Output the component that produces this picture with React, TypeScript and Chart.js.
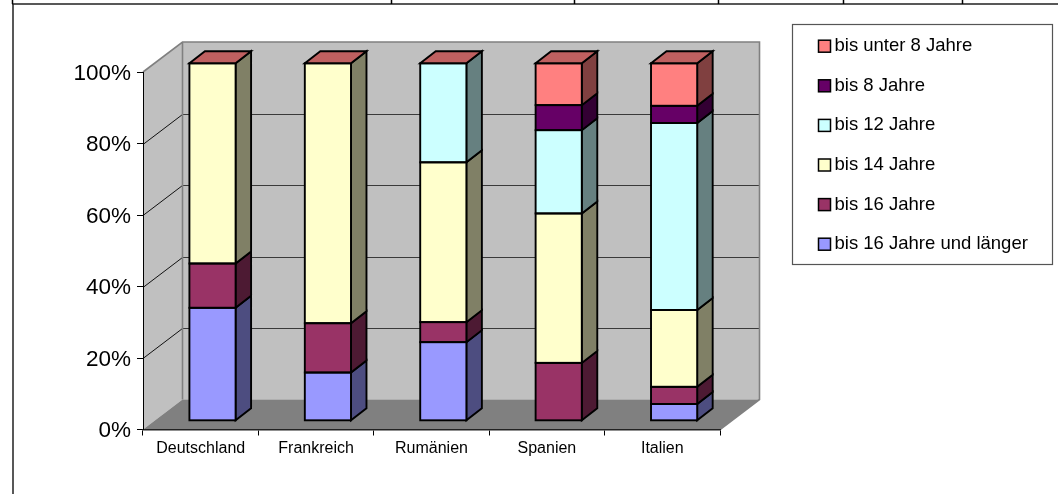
import React, { useEffect, useRef } from "react";
import { Chart, registerables } from "chart.js";

Chart.register(...registerables);

const FONT = "'Liberation Sans', Arial, sans-serif";

const categories = ["Deutschland", "Frankreich", "Rumänien", "Spanien", "Italien"];
const seriesNames = ["bis 16 Jahre und länger", "bis 16 Jahre", "bis 14 Jahre", "bis 12 Jahre", "bis 8 Jahre", "bis unter 8 Jahre"];
const bis16UndLaenger = [31.6, 13.5, 22, 0, 4.7];
const bis16 = [12.4, 13.8, 5.6, 16.2, 4.8];
const bis14 = [56, 72.7, 44.7, 41.8, 21.5];
const bis12 = [0, 0, 27.7, 23.3, 52.3];
const bis8 = [0, 0, 0, 7, 4.8];
const bisUnter8 = [0, 0, 0, 11.7, 11.9];
const seriesValues = [bis16UndLaenger, bis16, bis14, bis12, bis8, bisUnter8];
const frontColors = ["#9999ff", "#993366", "#ffffcc", "#ccffff", "#660066", "#ff8080"];
const sideColors = ["#4d4d80", "#4d1a33", "#808066", "#668080", "#330033", "#804040"];
const topColor = "#bf6060";
const tableDividers = [12, 391, 574, 718, 843, 962];

const WALL_DX = 39.5;
const WALL_DY = 30;
const BAR_DX = 11.8;
const BAR_DY = 8.7;
const BAR_DEPTH_X = 15.5;
const BAR_DEPTH_Y = 12;
const BAR_LINE = 1.9;
const LEGEND_FONT = 18.5;
const LEGEND_PAD = 21.1;

function poly(ctx: CanvasRenderingContext2D, pts: number[][], fill: string | null, stroke?: string, lw?: number) {
  ctx.beginPath();
  pts.forEach((p, i) => (i ? ctx.lineTo(p[0], p[1]) : ctx.moveTo(p[0], p[1])));
  ctx.closePath();
  if (fill) {
    ctx.fillStyle = fill;
    ctx.fill();
  }
  if (stroke) {
    ctx.strokeStyle = stroke;
    ctx.lineWidth = lw || 1;
    ctx.stroke();
  }
}

function segs(chart: any) {
  const out: any[] = [];
  chart.data.datasets.forEach((ds: any, d: number) => {
    const meta = chart.getDatasetMeta(d);
    meta.data.forEach((el: any, i: number) => {
      if (ds.data[i] > 0) {
        const hw = el.width / 2;
        out.push({ d, i, l: el.x - hw, r: el.x + hw, t: el.y, b: el.base });
      }
    });
  });
  return out;
}

const scene3d = {
  id: "scene3d",
  beforeDraw(chart: any) {
    const { ctx, chartArea: a, scales } = chart;
    const legend = chart.legend;
    legend.left = 800.15;
    legend.top = 15.85;
    legend.right = 1052;
    legend.bottom = 340;

    ctx.save();
    ctx.fillStyle = "#fff";
    ctx.fillRect(0, 0, chart.width, chart.height);

    const L = a.left, R = a.right, T = a.top, B = a.bottom;
    const bl = L + WALL_DX, br = R + WALL_DX, bt = T - WALL_DY, bb = B - WALL_DY;
    poly(ctx, [[L, T], [bl, bt], [bl, bb], [L, B]], "#c0c0c0");
    poly(ctx, [[bl, bt], [br, bt], [br, bb], [bl, bb]], "#c0c0c0");
    poly(ctx, [[L, B], [bl, bb], [br, bb], [R, B]], "#808080");

    scales.y.ticks.forEach((t: any) => {
      if (t.value <= 0 || t.value >= 100) return;
      const y = Math.round(scales.y.getPixelForValue(t.value)) + 0.5;
      ctx.beginPath();
      ctx.moveTo(L, y);
      ctx.lineTo(bl, y - WALL_DY);
      ctx.strokeStyle = "#111";
      ctx.lineWidth = 1;
      ctx.stroke();
      ctx.beginPath();
      ctx.moveTo(bl, y - WALL_DY);
      ctx.lineTo(br, y - WALL_DY);
      ctx.strokeStyle = "#3a3a3a";
      ctx.stroke();
    });

    ctx.strokeStyle = "#808080";
    ctx.lineWidth = 1.6;
    ctx.beginPath();
    ctx.moveTo(L, T);
    ctx.lineTo(bl, bt);
    ctx.lineTo(br, bt);
    ctx.lineTo(br, bb);
    ctx.lineTo(R, B);
    ctx.moveTo(bl, bt);
    ctx.lineTo(bl, bb);
    ctx.stroke();

    ctx.strokeStyle = "#555";
    ctx.lineWidth = 1.2;
    ctx.strokeRect(792.5, 24.5, 260, 240);
    ctx.restore();
  },
  beforeDatasetsDraw(chart: any) {
    const { ctx } = chart;
    ctx.save();
    ctx.translate(BAR_DX, -BAR_DY);
    segs(chart).forEach((s) => {
      poly(
        ctx,
        [[s.r, s.t], [s.r + BAR_DEPTH_X, s.t - BAR_DEPTH_Y], [s.r + BAR_DEPTH_X, s.b - BAR_DEPTH_Y], [s.r, s.b]],
        sideColors[s.d],
        "#000",
        BAR_LINE
      );
    });
  },
  afterDatasetsDraw(chart: any) {
    const { ctx, scales } = chart;
    const all = segs(chart);
    all.forEach((s) => {
      ctx.strokeStyle = "#000";
      ctx.lineWidth = BAR_LINE;
      ctx.strokeRect(s.l, s.t, s.r - s.l, s.b - s.t);
    });
    const top = scales.y.getPixelForValue(100);
    categories.forEach((_, i) => {
      const stack = all.filter((s) => s.i === i);
      const s = stack[0];
      poly(
        ctx,
        [[s.l, top], [s.l + BAR_DEPTH_X, top - BAR_DEPTH_Y], [s.r + BAR_DEPTH_X, top - BAR_DEPTH_Y], [s.r, top]],
        topColor,
        "#000",
        BAR_LINE
      );
    });
    ctx.restore();
  },
  afterDraw(chart: any) {
    const { ctx, legend } = chart;
    ctx.save();
    (legend.legendItems || []).forEach((item: any, i: number) => {
      const cy = legend.top + LEGEND_PAD + LEGEND_FONT / 2 + i * (LEGEND_FONT + LEGEND_PAD);
      ctx.fillStyle = item.swatch;
      ctx.fillRect(818.5, cy - 6, 12, 12);
      ctx.strokeStyle = "#000";
      ctx.lineWidth = 1.5;
      ctx.strokeRect(818.5, cy - 6, 12, 12);
    });
    ctx.strokeStyle = "#222";
    ctx.lineWidth = 1.5;
    ctx.beginPath();
    ctx.moveTo(12, 4);
    ctx.lineTo(chart.width, 4);
    ctx.moveTo(13, 4);
    ctx.lineTo(13, chart.height);
    ctx.stroke();
    ctx.strokeStyle = "#000";
    ctx.beginPath();
    tableDividers.forEach((x) => {
      ctx.moveTo(x + 0.5, 0);
      ctx.lineTo(x + 0.5, 4);
    });
    ctx.stroke();
    ctx.restore();
  },
};

export default function App() {
  const ref = useRef<HTMLCanvasElement>(null);
  useEffect(() => {
    const chart = new Chart(ref.current as HTMLCanvasElement, {
      type: "bar",
      data: {
        labels: categories,
        datasets: seriesNames.map((name, d) => ({
          label: name,
          data: seriesValues[d],
          backgroundColor: frontColors[d],
          borderWidth: 0,
          clip: false,
          barPercentage: 0.4,
          categoryPercentage: 1,
        })),
      } as any,
      options: {
        responsive: false,
        animation: false,
        layout: { padding: { left: 0, right: 238, top: 72, bottom: 0 } },
        scales: {
          x: {
            stacked: true,
            grid: { drawOnChartArea: false, drawTicks: true, tickLength: 6, color: "#000", lineWidth: 1 },
            border: { display: true, color: "#222", width: 1.5 },
            ticks: { font: { family: FONT, size: 16 }, color: "#000", padding: 3, maxRotation: 0, autoSkip: false },
            afterFit: (s: any) => {
              s.height = 64.5;
            },
          },
          y: {
            stacked: true,
            min: 0,
            max: 100,
            grid: { drawOnChartArea: false, drawTicks: true, tickLength: 6, color: "#000", lineWidth: 1 },
            border: { display: true, color: "#000", width: 1 },
            ticks: {
              stepSize: 20,
              font: { family: FONT, size: 22.5 },
              color: "#000",
              padding: 6,
              labelOffset: 1.5,
              callback: (v: any) => v + "%",
            },
            afterFit: (s: any) => {
              s.width = 143;
            },
          },
        },
        plugins: {
          title: { display: false },
          tooltip: { enabled: false },
          legend: {
            display: true,
            position: "right",
            align: "start",
            reverse: true,
            maxWidth: 100,
            labels: {
              font: { family: FONT, size: LEGEND_FONT },
              color: "#000",
              boxWidth: 4,
              boxHeight: 13,
              padding: LEGEND_PAD,
              generateLabels: (c: any) =>
                c.data.datasets.map((ds: any, i: number) => ({
                  text: ds.label,
                  fillStyle: "transparent",
                  strokeStyle: "transparent",
                  lineWidth: 0,
                  hidden: false,
                  datasetIndex: i,
                  fontColor: "#000",
                  swatch: ds.backgroundColor,
                })),
            },
          },
        },
      } as any,
      plugins: [scene3d],
    });
    return () => chart.destroy();
  }, []);
  return (
    <div style={{ position: "fixed", left: 0, top: 0, width: 1058, height: 494 }}>
      <canvas ref={ref} width={1058} height={494} style={{ display: "block", width: 1058, height: 494 }} />
    </div>
  );
}
